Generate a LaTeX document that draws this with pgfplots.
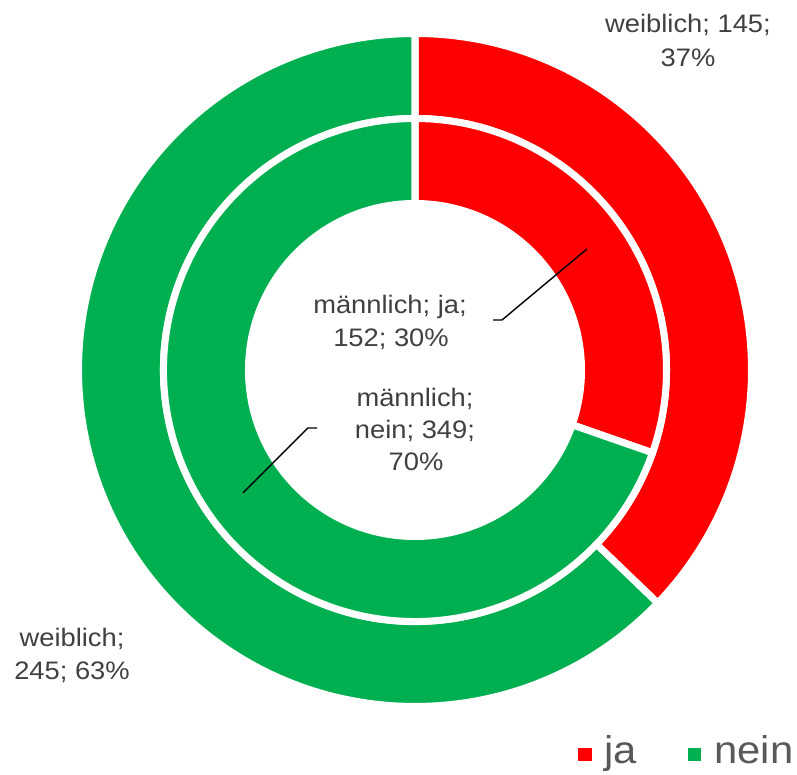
\documentclass[border=0pt]{standalone}
\usepackage{pgfplots}
\pgfplotsset{compat=1.18}
\usepackage{pgfplotstable}
\usepackage{fontspec}
\setmainfont{Liberation Sans}
\newfontfamily\lab[FakeStretch=1.08]{Liberation Sans}
\definecolor{ja}{HTML}{FF0000}
\definecolor{nein}{HTML}{00B050}
\definecolor{txt}{HTML}{404040}
\definecolor{leg}{HTML}{595959}

% Antworten je Gruppe
\pgfplotstableread{
gruppe ja nein
weiblich 145 245
maennlich 152 349
}\umfrage

\pgfplotstablegetelem{0}{ja}\of\umfrage \let\wja\pgfplotsretval
\pgfplotstablegetelem{0}{nein}\of\umfrage \let\wnein\pgfplotsretval
\pgfplotstablegetelem{1}{ja}\of\umfrage \let\mja\pgfplotsretval
\pgfplotstablegetelem{1}{nein}\of\umfrage \let\mnein\pgfplotsretval

\pgfmathsetmacro\wcut{90-360*(\wja/(\wja+\wnein))}
\pgfmathsetmacro\mcut{90-360*(\mja/(\mja+\mnein))}

% ring segment: start angle, end angle, inner r, outer r (px), colour
\newcommand\ring[5]{%
  \fill[#5,draw=white,line width=3pt]
    ([shift={(#1:#4*0.015cm)}]axis cs:415,-370)
    arc[start angle=#1,end angle=#2,radius=#4*0.015cm]
    -- ([shift={(#2:#3*0.015cm)}]axis cs:415,-370)
    arc[start angle=#2,end angle=#1,radius=#3*0.015cm] -- cycle;}

\begin{document}
\begin{tikzpicture}[
  lbl/.style={anchor=base,inner sep=0pt,text=txt,font={\lab\fontsize{10.8}{13}\selectfont}},
  lg/.style={anchor=base west,inner sep=0pt,text=leg,font={\lab\fontsize{16.5}{18}\selectfont}}]
\begin{axis}[x=0.015cm,y=0.015cm,xmin=0,xmax=797,ymin=-775,ymax=0,
  hide axis,clip=false]
\path (axis cs:0,0) rectangle (axis cs:797,-775);
\ring{90}{\wcut}{251.5}{336.5}{ja}
\ring{\wcut}{-270}{251.5}{336.5}{nein}
\ring{90}{\mcut}{166.5}{251.5}{ja}
\ring{\mcut}{-270}{166.5}{251.5}{nein}

\draw[line width=0.6pt] (axis cs:493,-320) -- (axis cs:502,-320) -- (axis cs:587,-249);
\draw[line width=0.6pt] (axis cs:317,-428) -- (axis cs:308,-428) -- (axis cs:243,-493);

\node[lbl] at (axis cs:688,-33) {weiblich; 145;};
\node[lbl] at (axis cs:688,-67) {37\%};
\node[lbl] at (axis cs:390,-314) {männlich; ja;};
\node[lbl] at (axis cs:391,-347) {152; 30\%};
\node[lbl] at (axis cs:415,-407) {männlich;};
\node[lbl] at (axis cs:415,-439) {nein; 349;};
\node[lbl] at (axis cs:416,-471) {70\%};
\node[lbl] at (axis cs:72,-647) {weiblich;};
\node[lbl] at (axis cs:72,-680) {245; 63\%};

\fill[ja] (axis cs:578,-748) rectangle (axis cs:592,-761);
\node[lg] at (axis cs:604,-764) {ja};
\fill[nein] (axis cs:688,-748) rectangle (axis cs:701,-761);
\node[lg] at (axis cs:714,-764) {nein};
\end{axis}
\end{tikzpicture}
\end{document}
